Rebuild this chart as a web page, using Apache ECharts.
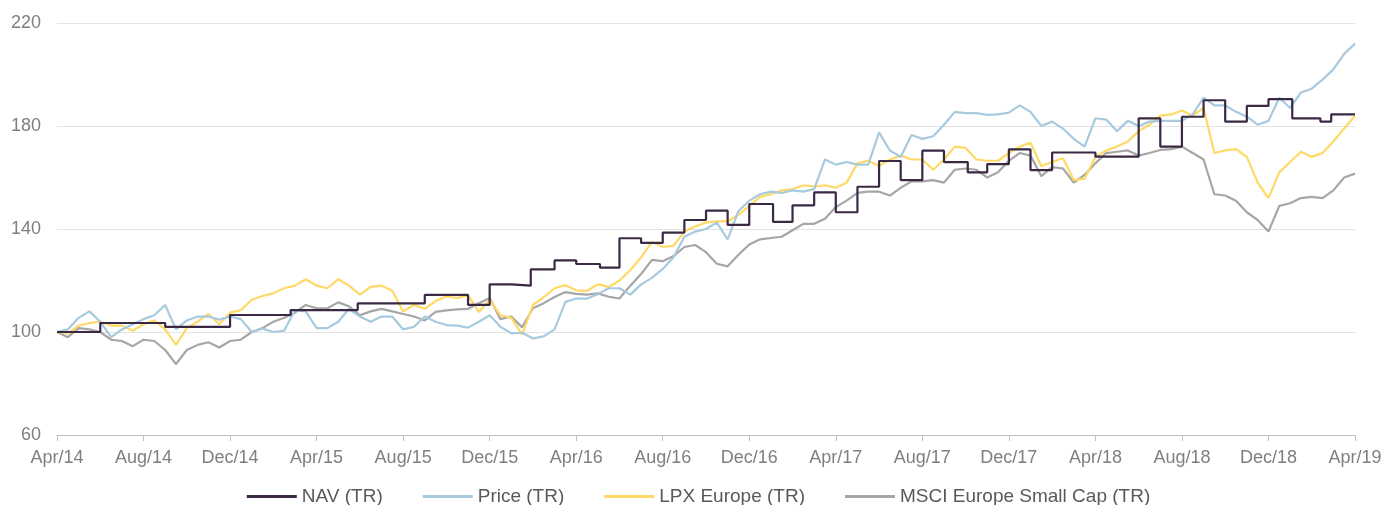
<!DOCTYPE html>
<html>
<head>
<meta charset="utf-8">
<script src="https://cdn.jsdelivr.net/npm/echarts@6/dist/echarts.min.js"></script>
<style>
html,body{margin:0;padding:0;background:#fff;}
#chart{width:1397px;height:505px;}
</style>
</head>
<body>
<div id="chart"></div>
<script>
// x-axis tick labels (every 4 months, starting Apr/14)
const tickLabels = ["Apr/14","Aug/14","Dec/14","Apr/15","Aug/15","Dec/15","Apr/16","Aug/16","Dec/16","Apr/17","Aug/17","Dec/17","Apr/18","Aug/18","Dec/18","Apr/19"];
const seriesNames = ["NAV (TR)","Price (TR)","LPX Europe (TR)","MSCI Europe Small Cap (TR)"];
// sample step in months for the Price / LPX / MSCI arrays (half-monthly readings from Apr/14)
const stepMonths = 0.5;

// NAV (TR): step changes [months since Apr/14]
const navMonths = [0,2.0,5.0,8.0,10.8,13.9,17.0,19.0,20.0,21.0,21.9,23.0,24.0,25.1,26.0,27.0,28.0,29.0,30.0,31.0,32.0,33.1,34.0,35.0,36.0,37.0,38.0,39.0,40.0,41.0,42.1,43.0,44.0,45.0,46.0,48.0,50.0,51.0,52.0,53.0,54.0,55.0,56.0,57.1,58.4,58.9,60];
const navValues = [100,103.5,102,106.6,108.5,111.1,114.4,110.5,118.5,118,124.3,127.8,126.4,125,136.4,134.6,138.6,143.5,147.1,141.6,149.7,142.8,149.2,154.2,146.5,156.4,166.4,159,170.4,166,162,165.2,170.9,162.9,169.7,168.1,183,172,183.6,190,181.7,187.8,190.4,183,181.7,184.5,184.5];

const priceValues = [100,101,105.5,108,104,98,101,103,105,106.5,
110.5,101,104.5,106,106,104.8,106,105,100,101.3,
100,100.5,108.5,108,101.5,101.5,104,109,106,104,
106,106,101,102,106,104,102.7,102.5,101.7,104,
106.5,102,99.5,99.7,97.5,98.3,101,111.7,113,113,
114.7,117,117,114.5,118.5,121,124.5,129,137,139,
140,142.5,136,147,151,153.5,154.5,154,155,154.5,
155.5,167,165,166,165,165,177.5,170.5,168,176.5,
175,176,180.5,185.5,185,185,184.3,184.5,185.2,188,
185.5,180,181.7,179,175,172,183,182.5,178,182,
180,181.7,182,182,182,184.5,191,188,188,185.5,
183.6,180.5,182,191,187,193,194.5,198,202,208,
212];

const lpxValues = [100,99.5,102.5,103.5,104,102.5,102.5,100.5,103,104.5,
101,95,101.5,104,107,103,107.5,108.5,112.5,114,
115,117,118,120.5,118,117,120.5,118,114.5,117.5,
118,116,108,110.5,109,112,113.8,113.2,114.2,107.8,
112.5,106.5,105.5,99,110.5,113.5,117,118.2,116.2,116,
118.5,117.5,120,124,129,135,133,133.5,139,141,
142.5,143,143,145.5,149,152.5,153.5,155,155.5,157,
156.5,157,156,158,165.5,166.5,164.5,167,168.5,167,
167,163,167,172,171.5,167,166.5,166.5,169.5,172,
173.5,164.5,166,167.5,159,159.5,168,170.5,172,174,
178,180.5,184,184.5,186,184,187,169.5,170.5,171,
168,158,152,162,166,170,168,169.5,174,179,
184];

const msciValues = [100,98,101.5,101,100,97,96.5,94.5,97,96.5,
93,87.5,93,95,96,94,96.5,97,100,101.5,
104,105.5,107.5,110.5,109.2,109.2,111.5,110,106.5,108,
109,108,107,106,104.5,107.8,108.4,108.8,109,111.2,
113.2,105,106,101.8,109.2,111.2,113.6,115.5,114.8,114.5,
115,113.7,113,118,122.5,128,127.5,129.5,133,133.8,
131,126.5,125.5,130,134,136,136.5,137,139.5,142,
142,144,148.5,151,154,154.5,154.5,153,156,158.5,
158.5,159,158,163,163.5,163,160,162,166.5,169.5,
168.5,160.5,164,163.5,158,161,165.5,169.5,170,170.5,
168.5,169.5,170.7,171,172,169.5,167,153.5,153,151,
146.5,143.5,139,149,150,152,152.5,152,155,160,
161.5];

const colors = {nav:"#3b2944", price:"#a7cadf", lpx:"#ffd966", msci:"#a6a6a6"};

function pairs(vals){ return vals.map((v,i)=>[i*stepMonths, v]); }
const navData = navMonths.map((m,i)=>[m, navValues[i]]);

const chart = echarts.init(document.getElementById('chart'), null, {renderer:'canvas'});
const font = '"Liberation Sans", Arial, sans-serif';
chart.setOption({
  animation:false,
  backgroundColor:'#ffffff',
  textStyle:{fontFamily:font},
  grid:{left:57,right:42,top:23,bottom:70,containLabel:false},
  legend:{
    data:seriesNames,
    top:482,
    left:'center',
    icon:'rect',
    itemWidth:50,
    itemHeight:3,
    itemGap:40,
    textStyle:{fontSize:19,color:'#595959',fontFamily:font}
  },
  xAxis:{
    type:'value',
    min:0,max:60,interval:4,
    axisLine:{show:true,lineStyle:{color:'#bfbfbf',width:1}},
    axisTick:{show:true,length:6,lineStyle:{color:'#bfbfbf'}},
    splitLine:{show:false},
    axisLabel:{fontSize:18,color:'#7f7f7f',margin:14,formatter:v=>tickLabels[Math.round(v/4)]||''}
  },
  yAxis:{
    type:'value',
    min:60,max:220,interval:40,
    axisLine:{show:false},
    axisTick:{show:false},
    splitLine:{lineStyle:{color:'#e3e3e3',width:1}},
    axisLabel:{fontSize:18,color:'#7f7f7f',margin:16}
  },
  series:[
    {name:seriesNames[3],type:'line',data:pairs(msciValues),showSymbol:false,symbol:'none',lineStyle:{width:2.2,color:colors.msci},itemStyle:{color:colors.msci}},
    {name:seriesNames[2],type:'line',data:pairs(lpxValues),showSymbol:false,symbol:'none',lineStyle:{width:2.2,color:colors.lpx},itemStyle:{color:colors.lpx}},
    {name:seriesNames[1],type:'line',data:pairs(priceValues),showSymbol:false,symbol:'none',lineStyle:{width:2.2,color:colors.price},itemStyle:{color:colors.price}},
    {name:seriesNames[0],type:'line',step:'end',data:navData,showSymbol:false,symbol:'none',lineStyle:{width:2.2,color:colors.nav},itemStyle:{color:colors.nav}}
  ]
});
</script>
</body>
</html>
